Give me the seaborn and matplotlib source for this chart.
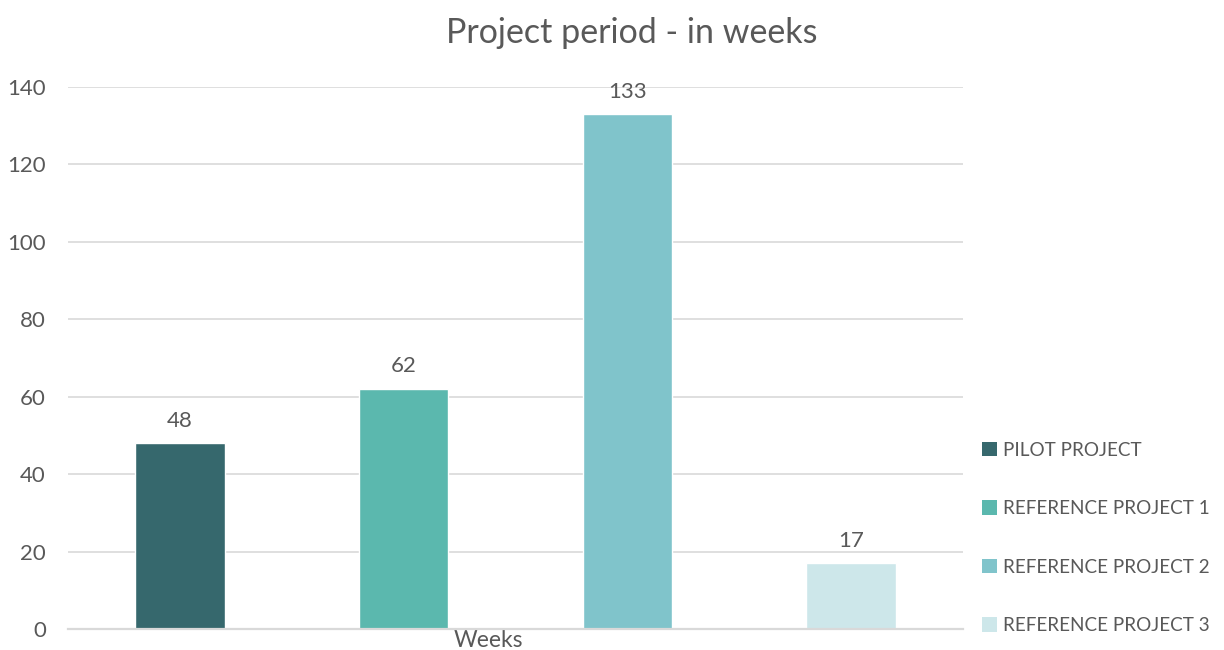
import matplotlib
matplotlib.use("Agg")
import matplotlib.pyplot as plt
import seaborn as sns
import pandas as pd
from matplotlib.patches import Patch

category = ["Weeks"]
projects = ["PILOT PROJECT", "REFERENCE PROJECT 1", "REFERENCE PROJECT 2", "REFERENCE PROJECT 3"]
weeks = [48, 62, 133, 17]
colors = ["#36686D", "#5BB8AE", "#80C4CB", "#CDE7EA"]
yticks = [0, 20, 40, 60, 80, 100, 120, 140]

df = pd.DataFrame({"category": category * len(projects), "project": projects, "weeks": weeks})

sns.set_theme(style="white")
plt.rcParams["font.family"] = ["Lato", "DejaVu Sans"]
text_color = "#595959"
grid_color = "#D9D9D9"

fig = plt.figure(figsize=(12.24, 6.5), dpi=100)
ax = fig.add_axes([68 / 1224, 21 / 650, (963 - 68) / 1224, (629 - 87) / 650])

sns.barplot(data=df, x="category", y="weeks", hue="project", hue_order=projects,
            palette=colors, width=1.0, gap=0.6, saturation=1, legend=False, ax=ax)

ax.set_xlim(-0.5, 0.5)
ax.set_ylim(0, 140)
ax.set_yticks(yticks)
ax.yaxis.grid(True, color=grid_color, linewidth=1.2)
ax.set_axisbelow(True)
for side in ["left", "right", "top"]:
    ax.spines[side].set_visible(False)
ax.spines["bottom"].set_color(grid_color)
ax.spines["bottom"].set_linewidth(1.6)
ax.tick_params(axis="y", length=0, pad=16, labelsize=16, labelcolor=text_color)
ax.tick_params(axis="x", length=0, pad=1, labelsize=16.5, labelcolor=text_color)
ax.set_xticks([-0.03])
ax.set_xticklabels(category)
ax.set_xlabel("")
ax.set_ylabel("")

for container in ax.containers:
    ax.bar_label(container, padding=9, fontsize=16, color=text_color)

fig.text(632 / 1224, 1 - 33 / 650, "Project period - in weeks", ha="center", va="center",
         fontsize=24.5, color=text_color)

handles = [Patch(facecolor=c, edgecolor="none") for c in colors]
fig.legend(handles, projects, loc="upper left", bbox_to_anchor=(974 / 1224, 1 - 434 / 650),
           frameon=False, fontsize=13.6, labelcolor=text_color, handlelength=0.8,
           handleheight=0.8, handletextpad=0.35, labelspacing=2.2, borderaxespad=0)

fig.savefig("out.png", dpi=100)
